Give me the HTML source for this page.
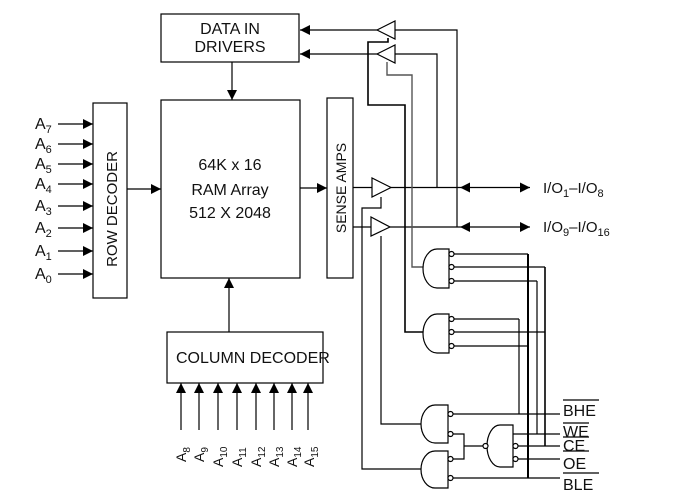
<!DOCTYPE html>
<html><head><meta charset="utf-8"><style>
html,body{margin:0;padding:0;background:#fff;}
svg{display:block;}
text{font-family:"Liberation Sans",sans-serif;fill:#111;}
</style></head><body>
<svg width="682" height="501" viewBox="0 0 682 501" xmlns="http://www.w3.org/2000/svg">
<defs>
<marker id="ah" viewBox="0 0 10 10" refX="10" refY="5" markerWidth="14" markerHeight="10" markerUnits="userSpaceOnUse" orient="auto"><path d="M0,0 L10,5 L0,10 z" fill="#000"/></marker>
<marker id="ahs" viewBox="0 0 10 10" refX="0" refY="5" markerWidth="14" markerHeight="10" markerUnits="userSpaceOnUse" orient="auto-start-reverse"><path d="M0,0 L10,5 L0,10 z" fill="#000"/></marker>
</defs>
<g fill="none" stroke="#000" stroke-width="1.2">
<rect x="161" y="14" width="138" height="48"/>
<rect x="93" y="103" width="34" height="195"/>
<rect x="161" y="100" width="139" height="178"/>
<rect x="327" y="98" width="26" height="180"/>
<rect x="167" y="332" width="156" height="51"/>
<line x1="232" y1="62" x2="232" y2="100" marker-end="url(#ah)"/>
<line x1="229" y1="332" x2="229" y2="278" marker-end="url(#ah)"/>
<line x1="127" y1="189" x2="161" y2="189" marker-end="url(#ah)"/>
<line x1="300" y1="188" x2="327" y2="188" marker-end="url(#ah)"/>
<line x1="58" y1="124" x2="93" y2="124" marker-end="url(#ah)"/>
<line x1="58" y1="144" x2="93" y2="144" marker-end="url(#ah)"/>
<line x1="58" y1="164" x2="93" y2="164" marker-end="url(#ah)"/>
<line x1="58" y1="184" x2="93" y2="184" marker-end="url(#ah)"/>
<line x1="58" y1="206" x2="93" y2="206" marker-end="url(#ah)"/>
<line x1="58" y1="228" x2="93" y2="228" marker-end="url(#ah)"/>
<line x1="58" y1="251" x2="93" y2="251" marker-end="url(#ah)"/>
<line x1="58" y1="274" x2="93" y2="274" marker-end="url(#ah)"/>
<line x1="181" y1="430" x2="181" y2="383" marker-end="url(#ah)"/>
<line x1="199" y1="430" x2="199" y2="383" marker-end="url(#ah)"/>
<line x1="218" y1="430" x2="218" y2="383" marker-end="url(#ah)"/>
<line x1="237" y1="430" x2="237" y2="383" marker-end="url(#ah)"/>
<line x1="256" y1="430" x2="256" y2="383" marker-end="url(#ah)"/>
<line x1="274" y1="430" x2="274" y2="383" marker-end="url(#ah)"/>
<line x1="292" y1="430" x2="292" y2="383" marker-end="url(#ah)"/>
<line x1="308" y1="430" x2="308" y2="383" marker-end="url(#ah)"/>
<path d="M395,21 L395,39 L377,30 z"/>
<path d="M395,45 L395,63 L377,54 z"/>
<line x1="377" y1="30" x2="300" y2="30" marker-end="url(#ah)"/>
<line x1="377" y1="54" x2="300" y2="54" marker-end="url(#ah)"/>
<polyline points="395,30 457,30 457,227"/>
<polyline points="395,54 437,54 437,188"/>
<path d="M372,178 L372,197 L391,187.5 z"/>
<path d="M371,217 L371,236 L390,227 z"/>
<line x1="353" y1="187.5" x2="372" y2="187.5"/>
<line x1="353" y1="227" x2="371" y2="227"/>
<line x1="391" y1="187.5" x2="470" y2="187.5"/>
<line x1="390" y1="227" x2="470" y2="227"/>
<line x1="470" y1="187.5" x2="530" y2="187.5" marker-start="url(#ahs)" marker-end="url(#ah)"/>
<line x1="470" y1="227" x2="530" y2="227" marker-start="url(#ahs)" marker-end="url(#ah)"/>
<polyline points="388,38 388,42 368,42 368,105 405,105 405,332 423,332" stroke-width="1.6"/>
<polyline points="387,62 387,75 412,75 412,267 423,267" stroke="#555" stroke-width="1.4"/>
<polyline points="381,197 381,208 362,208 362,469 421,469"/>
<polyline points="381,236 381,424 421,424"/>
<path d="M449,249 L437,249 A14,19.5 0 0 0 437,288 L449,288 z"/>
<path d="M449,314 L437,314 A14,19.5 0 0 0 437,353 L449,353 z"/>
<path d="M448,405 L435,405 A14,19 0 0 0 435,443 L448,443 z"/>
<path d="M448,451 L435,451 A14,18.5 0 0 0 435,488 L448,488 z"/>
<path d="M513,425 L500,425 A13,21 0 0 0 500,467 L513,467 z"/>
<g fill="#fff">
<circle cx="451.5" cy="254" r="2.5"/><circle cx="451.5" cy="267" r="2.5"/><circle cx="451.5" cy="281" r="2.5"/>
<circle cx="451.5" cy="319" r="2.5"/><circle cx="451.5" cy="332" r="2.5"/><circle cx="451.5" cy="346" r="2.5"/>
<circle cx="450.5" cy="414" r="2.5"/><circle cx="450.5" cy="434" r="2.5"/>
<circle cx="450.5" cy="459" r="2.5"/><circle cx="450.5" cy="478" r="2.5"/>
<circle cx="485.5" cy="446" r="2.5"/>
<circle cx="515.5" cy="446" r="2.5"/><circle cx="515.5" cy="459" r="2.5"/>
</g>
<line x1="454" y1="254" x2="528" y2="254"/>
<line x1="454" y1="267" x2="545" y2="267"/>
<line x1="454" y1="281" x2="537" y2="281"/>
<line x1="454" y1="319" x2="519" y2="319"/>
<line x1="454" y1="332" x2="545" y2="332"/>
<line x1="454" y1="346" x2="528" y2="346"/>
<line x1="453" y1="414" x2="560" y2="414"/>
<polyline points="453,434 464,434 464,459 453,459"/>
<line x1="464" y1="446" x2="483" y2="446"/>
<line x1="453" y1="478" x2="560" y2="478"/>
<line x1="513" y1="434" x2="560" y2="434"/>
<line x1="518" y1="446" x2="560" y2="446"/>
<line x1="518" y1="459" x2="560" y2="459"/>
<line x1="528" y1="254" x2="528" y2="478" stroke-width="2"/>
<line x1="545" y1="267" x2="545" y2="446" stroke-width="1.6"/>
<line x1="537" y1="281" x2="537" y2="434"/>
<line x1="519" y1="319" x2="519" y2="414"/>
<line x1="563" y1="400" x2="599" y2="400"/>
<line x1="563" y1="423" x2="589" y2="423"/>
<line x1="563" y1="437" x2="589" y2="437"/>
<line x1="563" y1="451" x2="589" y2="451"/>
<line x1="563" y1="473" x2="599" y2="473"/>
</g>
<text x="230" y="34" font-size="16" text-anchor="middle">DATA IN</text>
<text x="230" y="52" font-size="16" text-anchor="middle">DRIVERS</text>
<text x="230" y="170" font-size="16" text-anchor="middle">64K x 16</text>
<text x="230" y="195" font-size="16" text-anchor="middle">RAM Array</text>
<text x="230" y="218" font-size="16" text-anchor="middle">512 X 2048</text>
<text x="176" y="363" font-size="16">COLUMN DECODER</text>
<text transform="translate(117,209) rotate(-90)" font-size="15" text-anchor="middle">ROW DECODER</text>
<text transform="translate(346,188) rotate(-90)" font-size="14" text-anchor="middle">SENSE AMPS</text>
<g font-size="16">
<text x="35" y="129">A<tspan font-size="11" dy="4">7</tspan></text>
<text x="35" y="149">A<tspan font-size="11" dy="4">6</tspan></text>
<text x="35" y="169">A<tspan font-size="11" dy="4">5</tspan></text>
<text x="35" y="189">A<tspan font-size="11" dy="4">4</tspan></text>
<text x="35" y="211">A<tspan font-size="11" dy="4">3</tspan></text>
<text x="35" y="233">A<tspan font-size="11" dy="4">2</tspan></text>
<text x="35" y="256">A<tspan font-size="11" dy="4">1</tspan></text>
<text x="35" y="279">A<tspan font-size="11" dy="4">0</tspan></text>
</g>
<g font-size="14">
<text transform="translate(186,462) rotate(-90)">A<tspan font-size="10" dy="4">8</tspan></text>
<text transform="translate(204,462) rotate(-90)">A<tspan font-size="10" dy="4">9</tspan></text>
<text transform="translate(223,467) rotate(-90)">A<tspan font-size="10" dy="4">10</tspan></text>
<text transform="translate(242,467) rotate(-90)">A<tspan font-size="10" dy="4">11</tspan></text>
<text transform="translate(261,467) rotate(-90)">A<tspan font-size="10" dy="4">12</tspan></text>
<text transform="translate(279,467) rotate(-90)">A<tspan font-size="10" dy="4">13</tspan></text>
<text transform="translate(297,467) rotate(-90)">A<tspan font-size="10" dy="4">14</tspan></text>
<text transform="translate(314,467) rotate(-90)">A<tspan font-size="10" dy="4">15</tspan></text>
</g>
<text x="543" y="193" font-size="15">I/O<tspan font-size="11" dy="4">1</tspan><tspan dy="-4">–I/O</tspan><tspan font-size="11" dy="4">8</tspan></text>
<text x="543" y="232" font-size="15">I/O<tspan font-size="11" dy="4">9</tspan><tspan dy="-4">–I/O</tspan><tspan font-size="11" dy="4">16</tspan></text>
<g font-size="16">
<text x="563" y="416">BHE</text>
<text x="563" y="437">WE</text>
<text x="563" y="451">CE</text>
<text x="563" y="469">OE</text>
<text x="563" y="490">BLE</text>
</g>
</svg>
</body></html>
